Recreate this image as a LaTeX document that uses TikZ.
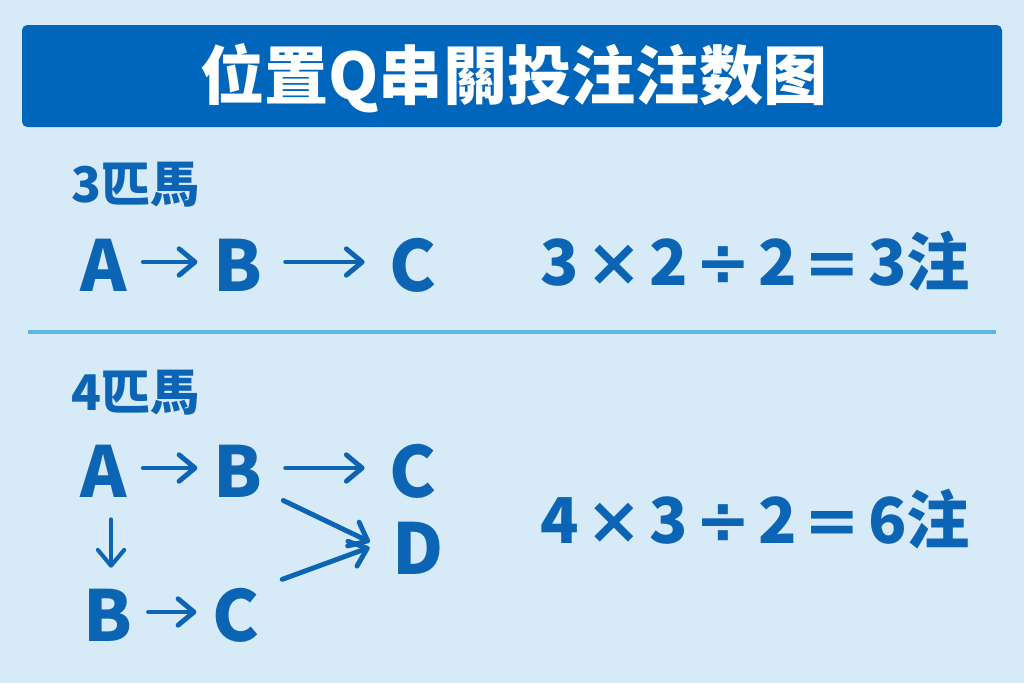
\documentclass[tikz,border=0pt]{standalone}
\usepackage{fontspec}
\setmainfont{Noto Sans CJK TC}
\newfontfamily\opfont{DejaVu Sans}[Scale=1.05]
\usetikzlibrary{arrows.meta,positioning}
\definecolor{bgblue}{RGB}{214,234,248}
\definecolor{barblue}{RGB}{0,102,187}
\definecolor{txtblue}{RGB}{12,100,180}
\definecolor{lineblue}{RGB}{92,182,232}
\newcommand{\op}[1]{\hspace{0.12em}{\opfont #1}\hspace{0.12em}}

\tikzset{
  letter/.style={font=\fontsize{40}{40}\selectfont\bfseries, text=txtblue,
    text height=34pt, text depth=0pt, inner xsep=9pt, inner ysep=0pt},
  label/.style={font=\fontsize{28}{28}\selectfont\bfseries, text=txtblue, inner sep=0pt},
  formula/.style={font=\fontsize{36}{36}\selectfont\bfseries, text=txtblue, inner sep=0pt},
  arr/.style={-{Straight Barb[length=9pt,width=15pt,round]}, txtblue, line width=2.8pt, line cap=round}
}

\begin{document}
\begin{tikzpicture}[x=0.02cm, y=-0.02cm]
\useasboundingbox (0,0) rectangle (1024,683);
\fill[bgblue] (0,0) rectangle (1024,683);

% title bar
\fill[barblue, rounded corners=3pt] (22,25) rectangle (1002,127);
\node[font=\fontsize{36.5}{36.5}\selectfont\bfseries, text=white] (title) at (514,78) {位置Q串關投注注数图};

% 3 horses
\node[label] (lab3) at (136,185) {3匹馬};
\node[letter] (a1) at (104,262) {A};
\node[letter] (b1) at (238,262) {B};
\node[letter] (c1) at (413,262) {C};
\draw[arr] (a1) -- (b1);
\draw[arr, shorten <=4pt, shorten >=5pt] (b1) -- (c1);
\node[formula] (f3) at (755,261) {3\op{×}2\op{÷}2\op{=}3注};

% divider
\draw[lineblue, line width=2.3pt] (28,332) -- (996,332);

% 4 horses
\node[label] (lab4) at (136,393) {4匹馬};
\node[letter] (a2) at (104,468) {A};
\node[letter] (b2) at (238,468) {B};
\node[letter] (c2) at (413,468) {C};
\node[letter] (d2) at (418,545) {D};
\node[letter] (b3) at (108,612) {B};
\node[letter] (c3) at (236,612) {C};
\draw[arr] (a2) -- (b2);
\draw[arr, shorten <=4pt, shorten >=5pt] (b2) -- (c2);
\draw[arr, line width=2.3pt, shorten <=12pt, shorten >=8pt] ([xshift=4pt]a2.south) -- ([xshift=4pt]a2.south |- b3.north);
\draw[arr] (b3) -- (c3);
\draw[arr, shorten <=3pt, shorten >=4pt] (b2.south east) -- (d2.west);
\draw[arr, shorten <=4pt, shorten >=4pt] (c3.north east) -- (d2.west);
\node[formula] (f4) at (755,519) {4\op{×}3\op{÷}2\op{=}6注};
\end{tikzpicture}
\end{document}
